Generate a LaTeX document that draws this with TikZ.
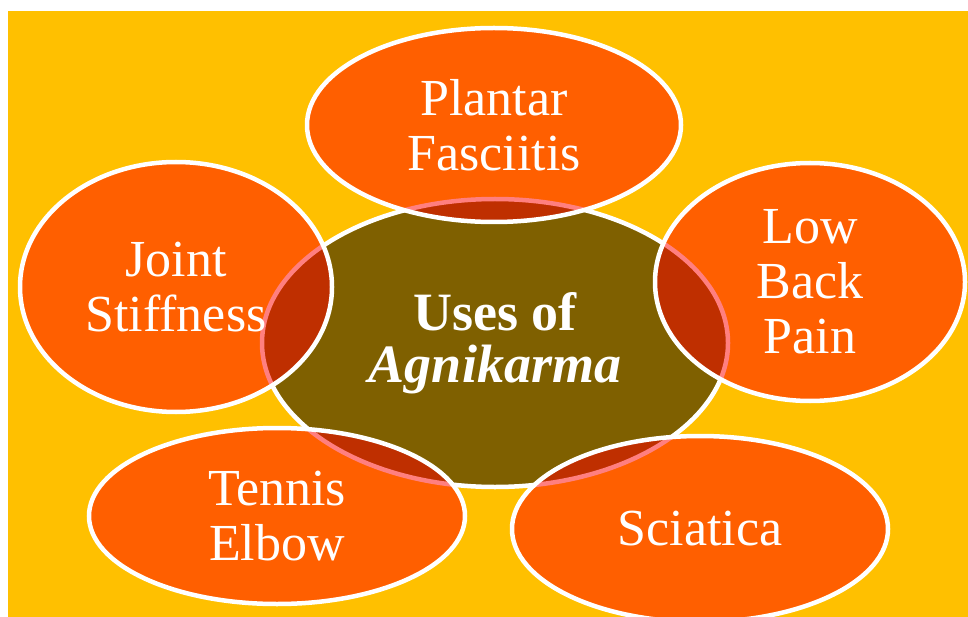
\documentclass[tikz,border=0pt]{standalone}
\usepackage{fontspec}
\setmainfont{Liberation Serif}
\usetikzlibrary{shapes.geometric}
\definecolor{bgyellow}{HTML}{FFC000}
\definecolor{olive}{HTML}{7F6000}
\tikzset{
  disease/.style={ellipse, inner sep=0pt, fill=red, fill opacity=0.5, text opacity=1,
    draw=white, draw opacity=1, line width=4.5pt, text=white, align=center,
    font=\fontsize{52}{55}\selectfont},
  hub/.style={ellipse, inner sep=0pt, fill=olive, draw=white, line width=4.5pt,
    text=white, align=center, font=\fontsize{54}{52}\selectfont\bfseries}
}
\begin{document}
\begin{tikzpicture}[x=1pt,y=-1pt]
\useasboundingbox (0,0) rectangle (968,617);
\fill[bgyellow] (8,11) rectangle (968,617);
\begin{scope}
\clip (0,0) rectangle (968,617);
\node[hub, minimum width=466pt, minimum height=288pt] (hubnode) at (495,343) {Uses of\\\textit{Agnikarma}};
\node[disease, minimum width=374pt, minimum height=194pt] (plantar) at (494,125) {Plantar\\Fasciitis};
\node[disease, minimum width=312pt, minimum height=250pt] (joint) at (176,287) {Joint\\Stiffness};
\node[disease, minimum width=310pt, minimum height=238pt] (back) at (810,282) {Low\\Back\\Pain};
\node[disease, minimum width=376pt, minimum height=176pt] (tennis) at (277,516) {Tennis\\Elbow};
\node[disease, minimum width=376pt, minimum height=186pt] (sciatica) at (700,529) {Sciatica};
\end{scope}
\end{tikzpicture}
\end{document}
